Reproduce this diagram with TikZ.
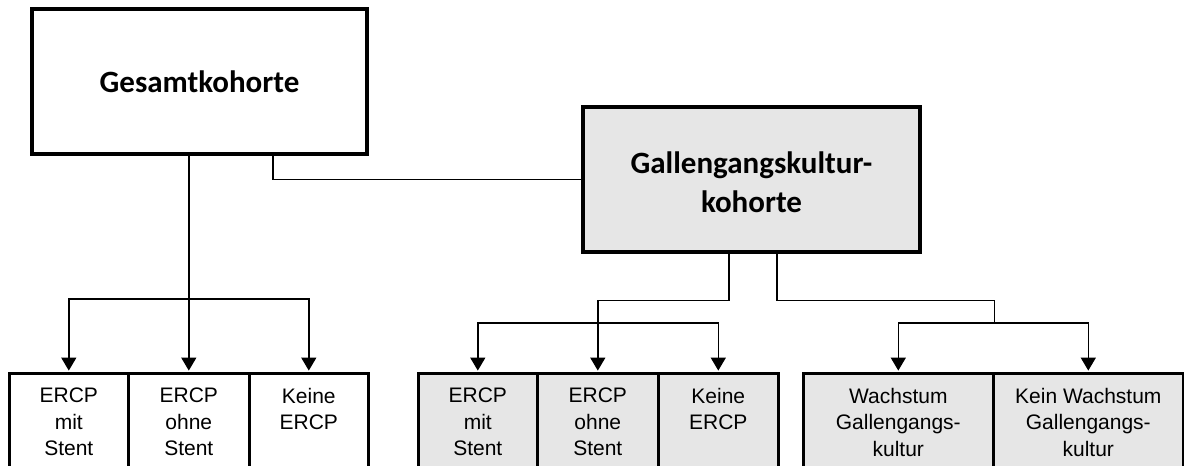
\documentclass[tikz,border=0pt]{standalone}
\usepackage{fontspec}
\setmainfont{Liberation Sans}
\newfontfamily\calibri{Carlito}
\usetikzlibrary{arrows.meta}
\definecolor{boxgray}{RGB}{230,230,230}
\begin{document}
\begin{tikzpicture}[x=1pt,y=-1pt,
  bigbox/.style={draw=black, line width=3.2pt, inner sep=0pt},
  bigtext/.style={inner sep=0pt, align=center, font=\calibri\bfseries\fontsize{31}{39}\selectfont},
  smallbox/.style={draw=black, line width=2.6pt, inner sep=0pt, anchor=north west, minimum height=130pt},
  lbl/.style={anchor=north, inner sep=0pt, align=center, font=\fontsize{21}{26.5}\selectfont},
  conn/.style={line width=1.4pt},
  arr/.style={conn, shorten >=1.4pt, -{Triangle[width=15pt,length=13pt]}}
]
\clip (0,0) rectangle (1184,466);
\fill[white] (0,0) rectangle (1184,466);

% top boxes
\node[bigbox, minimum width=335pt, minimum height=145pt] (G) at (199.5,81.5) {};
\node[bigtext] (Gt) at (G.center) {Gesamtkohorte};
\node[bigbox, fill=boxgray, minimum width=337pt, minimum height=145pt] (K) at (751.5,179.5) {};
\node[bigtext] (Kt) at ([yshift=-3pt]K.center) {Gallengangskultur-\\kohorte};

% bottom boxes, left group
\node[smallbox, minimum width=119pt] (L1) at (8,372) {};
\node[smallbox, minimum width=121pt] (L2) at (127,372) {};
\node[smallbox, minimum width=119pt] (L3) at (248,372) {};
% middle group
\node[smallbox, fill=boxgray, minimum width=119pt] (M1) at (417,372) {};
\node[smallbox, fill=boxgray, minimum width=121pt] (M2) at (536,372) {};
\node[smallbox, fill=boxgray, minimum width=120pt] (M3) at (657,372) {};
% right group
\node[smallbox, fill=boxgray, minimum width=190pt] (R1) at (802,372) {};
\node[smallbox, fill=boxgray, minimum width=190pt] (R2) at (992,372) {};

% labels
\node[lbl] (tL1) at ([yshift=-16pt]L1.north) {ERCP\\mit\\Stent};
\node[lbl] (tL2) at ([yshift=-16pt]L2.north) {ERCP\\ohne\\Stent};
\node[lbl] (tL3) at ([yshift=-16pt]L3.north) {Keine\\ERCP};
\node[lbl] (tM1) at ([yshift=-16pt]M1.north) {ERCP\\mit\\Stent};
\node[lbl] (tM2) at ([yshift=-16pt]M2.north) {ERCP\\ohne\\Stent};
\node[lbl] (tM3) at ([yshift=-16pt]M3.north) {Keine\\ERCP};
\node[lbl] (tR1) at ([yshift=-16pt]R1.north) {Wachstum\\Gallengangs-\\kultur};
\node[lbl] (tR2) at ([yshift=-16pt]R2.north) {Kein Wachstum\\Gallengangs-\\kultur};

% connector Gesamtkohorte -> Gallengangskulturkohorte
\path (G.south) ++(73.5,0) coordinate (gk);
\draw[conn] (gk) |- (K.west);

% left group
\draw[arr] (G.south -| L2.north) -- (L2.north);
\path (L2.north) ++(0,-73) coordinate (lbar);
\draw[arr] (lbar) -| (L1.north);
\draw[arr] (lbar) -| (L3.north);

% middle group
\path (K.south) ++(-22.5,0) coordinate (km);
\draw[arr] (km) -- ++(0,47) -| (M2.north);
\path (M2.north) ++(0,-49) coordinate (mbar);
\draw[arr] (mbar) -| (M1.north);
\draw[arr] (mbar) -| (M3.north);

% right group
\path (K.south) ++(25.5,0) coordinate (kr);
\path (R1.north east) ++(0,-49) coordinate (rbar);
\draw[conn] (kr) -- ++(0,47) -| (rbar);
\draw[arr] (rbar) -| (R1.north);
\draw[arr] (rbar) -| (R2.north);
\end{tikzpicture}
\end{document}
